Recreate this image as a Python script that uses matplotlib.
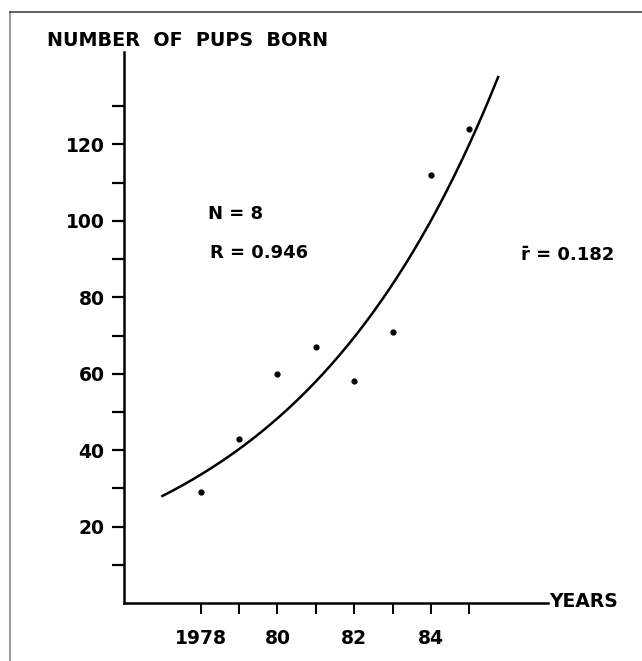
import numpy as np
import matplotlib
matplotlib.use("Agg")
import matplotlib.pyplot as plt
from matplotlib.ticker import FixedLocator

# pups born per year
years = [1978, 1979, 1980, 1981, 1982, 1983, 1984, 1985]
pups = [29, 43, 60, 67, 58, 71, 112, 124]

# fitted exponential growth
growth_rate = 0.182
start_year = 1977.0
start_value = 28.0
end_year = 1985.75

plt.rcParams['font.family'] = ['DejaVu Sans']
plt.rcParams['font.weight'] = 'bold'

fig = plt.figure(figsize=(6.42, 6.61), dpi=100)
ax = fig.add_axes([124 / 642, 58 / 661, (548 - 124) / 642, (603 - 52) / 661])

t = np.linspace(start_year, end_year, 200)
ax.plot(t, start_value * np.exp(growth_rate * (t - start_year)), color='black', lw=1.8)
ax.scatter(years, pups, s=12, color='black', zorder=3)

ax.set_xlim(1976, 1987.05)
ax.set_ylim(0, 144.2)

for side in ['top', 'right']:
    ax.spines[side].set_visible(False)
for side in ['left', 'bottom']:
    ax.spines[side].set_linewidth(1.8)

ax.yaxis.set_major_locator(FixedLocator([20, 40, 60, 80, 100, 120]))
ax.yaxis.set_minor_locator(FixedLocator([10, 30, 50, 70, 90, 110, 130]))
ax.xaxis.set_major_locator(FixedLocator([1978, 1980, 1982, 1984]))
ax.xaxis.set_minor_locator(FixedLocator([1979, 1981, 1983, 1985]))
ax.set_xticklabels(['1978', '80', '82', '84'])

ax.tick_params(axis='y', which='both', direction='out', length=9, width=1.6, labelsize=13.5, pad=5)
ax.tick_params(axis='x', which='both', direction='out', length=8, width=1.4, labelsize=13.5, pad=11)

ax.text(1987.08, 0.5, 'YEARS', fontsize=13.5, fontweight='bold', ha='left', va='center')
fig.text(47 / 642, 1 - 41 / 661, 'NUMBER  OF  PUPS  BORN', fontsize=13.8, fontweight='bold',
         ha='left', va='center')

ax.text(1978.2, 101.8, 'N = 8', fontsize=13, fontweight='bold', ha='left', va='center')
ax.text(1978.25, 91.5, 'R = 0.946', fontsize=13, fontweight='bold', ha='left', va='center')
ax.text(1986.35, 91.2, 'r\u0304 = 0.182', fontsize=13, fontweight='bold', ha='left', va='center')

# page border
fig.add_artist(plt.Line2D([10 / 642, 10 / 642], [0, 1 - 12 / 661], color='#888888', lw=1.2,
                          transform=fig.transFigure))
fig.add_artist(plt.Line2D([10 / 642, 1], [1 - 12 / 661, 1 - 12 / 661], color='#444444', lw=1.2,
                          transform=fig.transFigure))

fig.savefig('out.png', dpi=100)
